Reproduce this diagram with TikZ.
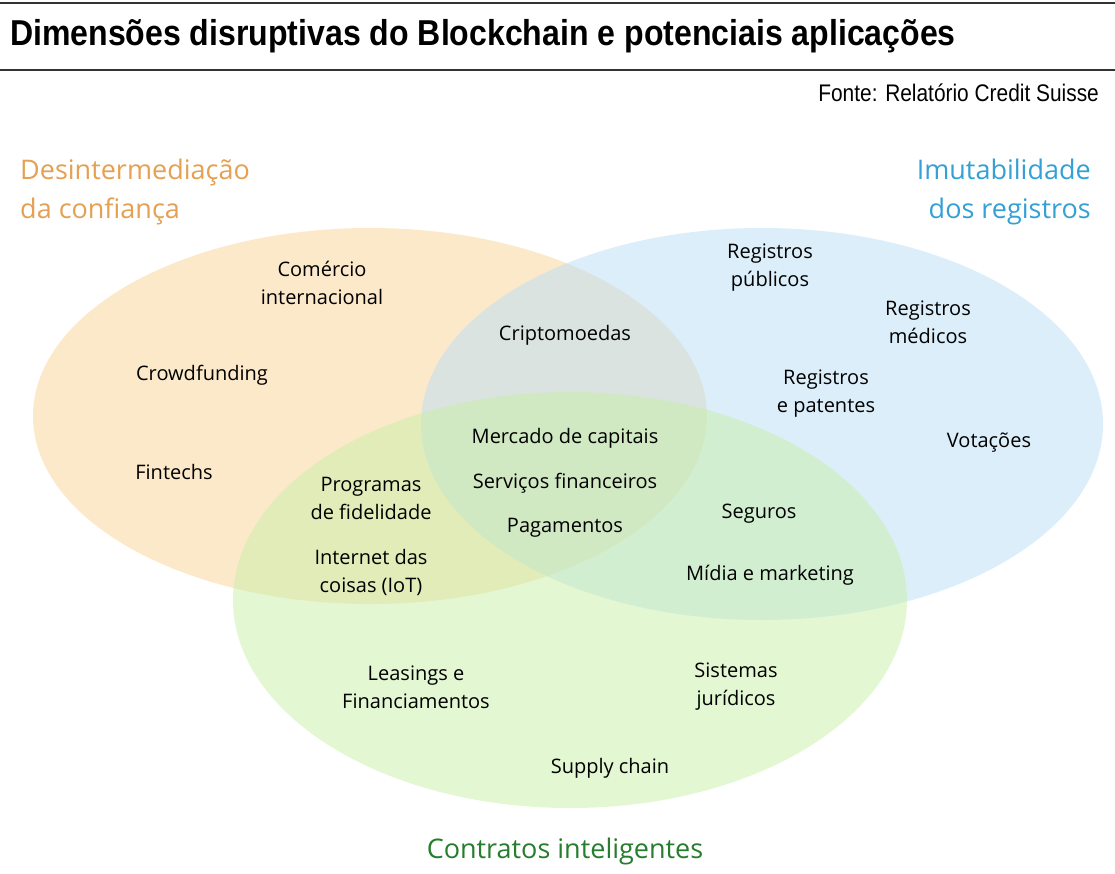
\documentclass[tikz,border=0pt]{standalone}
\usepackage{fontspec}
\setmainfont{Open Sans}
\newfontfamily\headfont{Liberation Sans}
\definecolor{setorange}{RGB}{250,212,150}
\definecolor{setblue}{RGB}{186,222,247}
\definecolor{setgreen}{RGB}{200,240,168}
\definecolor{txtorange}{RGB}{229,160,82}
\definecolor{txtblue}{RGB}{52,160,214}
\definecolor{txtgreen}{RGB}{38,125,45}
\tikzstyle{every node}=[inner sep=0pt, align=center]
\tikzstyle{item}=[font=\fontsize{20}{28}\selectfont]
\tikzstyle{setname}=[font=\fontsize{27}{39}\selectfont]
\tikzstyle{setfill}=[fill opacity=0.5]

\begin{document}
\begin{tikzpicture}[x=1pt, y=-1pt]
  \useasboundingbox (0,0) rectangle (1115,873);
  \fill[white] (0,0) rectangle (1115,873);

  % Header
  \draw[line width=2pt, black!80] (0,3) -- (1115,3);
  \draw[line width=2pt, black!80] (0,70) -- (1115,70);
  \node[anchor=west, xscale=0.89, font=\headfont\bfseries\fontsize{36}{40}\selectfont] (title) at (10,36)
    {Dimensões disruptivas do Blockchain e potenciais aplicações};
  \node[anchor=east, xscale=0.87, font=\headfont\fontsize{24}{26}\selectfont] (source) at (1099,93)
    {Fonte: Relatório Credit Suisse};

  % The three sets
  \fill[setorange, setfill] (370,416) ellipse [x radius=337pt, y radius=188pt];
  \fill[setblue, setfill] (762,424) ellipse [x radius=341pt, y radius=196pt];
  \fill[setgreen, setfill] (570,600) ellipse [x radius=337pt, y radius=208pt];

  % Set names
  \node[setname, text=txtorange, anchor=west, align=left] (trust) at (20,192)
    {Desintermediação\\da confiança};
  \node[setname, text=txtblue, anchor=east, align=right] (ledger) at (1091,192)
    {Imutabilidade\\dos registros};
  \node[setname, text=txtgreen] (smart) at (565,851) {Contratos inteligentes};

  % Applications
  \node[item] (comercio) at (322,283) {Comércio\\internacional};
  \node[item] (crowd) at (202,375) {Crowdfunding};
  \node[item] (fintech) at (174,472) {Fintechs};
  \node[item] (cripto) at (565,335) {Criptomoedas};
  \node[item] (publicos) at (770,268) {Registros\\públicos};
  \node[item] (medicos) at (928,322) {Registros\\médicos};
  \node[item] (patentes) at (826,394) {Registros\\e patentes};
  \node[item] (votos) at (989,443) {Votações};
  \node[item] (mercado) at (565,438) {Mercado de capitais};
  \node[item] (servicos) at (565,483) {Serviços financeiros};
  \node[item] (pagto) at (565,528) {Pagamentos};
  \node[item] (fidelidade) at (371,498) {Programas\\de fidelidade};
  \node[item] (iot) at (371,572) {Internet das\\coisas (IoT)};
  \node[item] (seguros) at (759,514) {Seguros};
  \node[item] (midia) at (770,575) {Mídia e marketing};
  \node[item] (leasing) at (416,687) {Leasings e\\Financiamentos};
  \node[item] (juridico) at (736,687) {Sistemas\\jurídicos};
  \node[item] (supply) at (610,768) {Supply chain};
\end{tikzpicture}
\end{document}
